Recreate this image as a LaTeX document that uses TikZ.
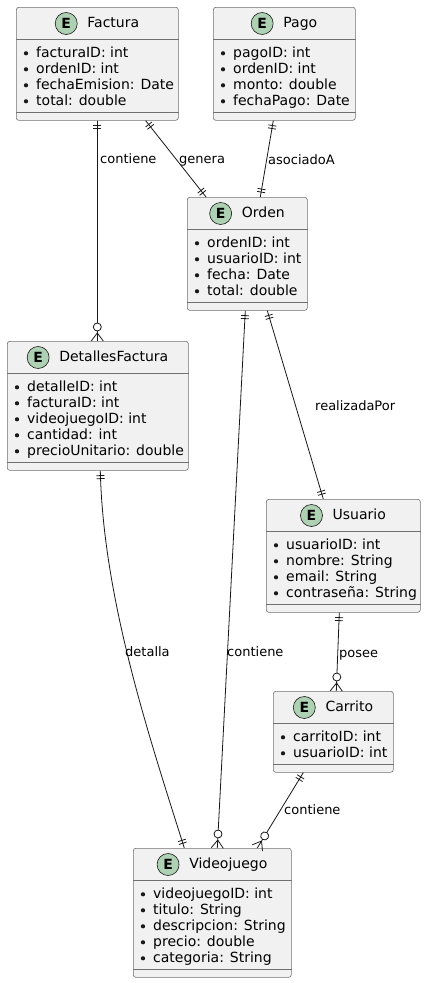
\documentclass[tikz,border=0pt]{standalone}
\usepackage{fontspec}
\setmainfont{DejaVu Sans}
\usetikzlibrary{decorations.markings,calc}
\definecolor{entfill}{HTML}{F1F1F1}
\definecolor{entline}{HTML}{181818}
\definecolor{boxline}{HTML}{707070}
\definecolor{ecol}{HTML}{ADD1B2}
\tikzset{
  entbox/.style={draw=boxline, line width=0.6pt, fill=entfill, rounded corners=2.5pt, inner sep=0pt, anchor=north west},
  divline/.style={draw=boxline, line width=0.6pt},
  ttl/.style={inner sep=0pt, text height=10pt, text depth=3pt, font=\fontsize{14}{16}\selectfont},
  ecirc/.style={circle, draw=entline, line width=0.6pt, fill=ecol, minimum size=22pt, inner sep=0pt, font=\fontsize{14}{16}\selectfont\bfseries},
  attr/.style={inner sep=0pt, anchor=base west, font=\fontsize{14}{16}\selectfont},
  lbl/.style={inner sep=0pt, anchor=base west, font=\fontsize{13}{15}\selectfont},
  conn/.style={draw=entline, line width=0.8pt},
  mk/.style={draw=entline, line width=0.8pt},
  oneS/.style={postaction={decorate, decoration={markings,
     mark=at position 5pt with {\draw[mk] (0,-4pt) -- (0,4pt);},
     mark=at position 8pt with {\draw[mk] (0,-4pt) -- (0,4pt);}}}},
  oneE/.style={postaction={decorate, decoration={markings,
     mark=at position -5pt with {\draw[mk] (0,-4pt) -- (0,4pt);},
     mark=at position -8pt with {\draw[mk] (0,-4pt) -- (0,4pt);}}}},
  zmanyE/.style={postaction={decorate, decoration={markings,
     mark=at position -14pt with {\draw[mk, fill=white] (0,0) circle (4pt);},
     mark=at position -8pt with {\draw[mk] (0,0) -- (8pt,6pt) (0,0) -- (8pt,-6pt);}}}},
}
% id, x, y, width, number of attributes, title, attributes
\newcommand{\entity}[7]{%
  \node[entbox, minimum width=#4pt, minimum height={49pt+16pt*#5}] (#1) at (#2,#3) {};
  \draw[divline] ([yshift=-32pt]#1.north west) -- ([yshift=-32pt]#1.north east);
  \draw[divline] ([yshift=8pt]#1.south west) -- ([yshift=8pt]#1.south east);
  \node[ttl] (#1-t) at ([xshift=16pt,yshift=-16.5pt]#1.north) {#6};
  \node[ecirc] (#1-e) at ([xshift=-21pt]#1-t.west) {E};
  \foreach \a [count=\i] in {#7} {
    \fill[entline] ([xshift=10pt,yshift={-46.3pt-16pt*(\i-1)}]#1.north west) circle (2.1pt);
    \node[attr] (#1-a\i) at ([xshift=20pt,yshift={-50.5pt-16pt*(\i-1)}]#1.north west) {\a};
  }
}
\begin{document}
\begin{tikzpicture}[x=1pt,y=-1pt]
\useasboundingbox (0,0) rectangle (426,983);
\fill[white] (0,0) rectangle (426,983);

\entity{factura}{16}{7}{162}{4}{Factura}{facturaID: int,ordenID: int,fechaEmision: Date,total: double}
\entity{pago}{213}{7}{142}{4}{Pago}{pagoID: int,ordenID: int,monto: double,fechaPago: Date}
\entity{orden}{187}{197}{120}{4}{Orden}{ordenID: int,usuarioID: int,fecha: Date,total: double}
\entity{detalles}{7}{341}{181}{5}{DetallesFactura}{detalleID: int,facturaID: int,videojuegoID: int,cantidad: int,precioUnitario: double}
\entity{usuario}{266}{499}{154}{4}{Usuario}{usuarioID: int,nombre: String,email: String,contraseña: String}
\entity{carrito}{273}{691}{120}{2}{Carrito}{carritoID: int,usuarioID: int}
\entity{videojuego}{133}{848}{158}{5}{Videojuego}{videojuegoID: int,titulo: String,descripcion: String,precio: double,categoria: String}

% connectors
\draw[conn, oneS, zmanyE] (factura.south) -- (factura.south |- detalles.north);
\draw[conn, oneS, oneE] ([xshift=-33pt]factura.south east) -- ([xshift=19pt]orden.north west);
\draw[conn, oneS, oneE] ([xshift=-11pt]pago.south) -- ([xshift=13pt]orden.north);
\draw[conn, oneS, oneE] ([xshift=20pt]orden.south) -- ([xshift=-20pt]usuario.north);
\draw[conn, oneS, zmanyE] ([xshift=-2pt]orden.south) -- ([xshift=5pt]videojuego.north);
\draw[conn, oneS, oneE] ([xshift=2.5pt]detalles.south) .. controls +(3,130) and +(-34,-108) .. ([xshift=-28pt]videojuego.north);
\draw[conn, oneS, zmanyE] ([xshift=-4pt]usuario.south) -- ([xshift=3pt]carrito.north);
\draw[conn, oneS, zmanyE] ([xshift=-30pt]carrito.south) -- ([xshift=45pt]videojuego.north);

% labels
\node[lbl] (l-contiene1) at (100,163) {contiene};
\node[lbl] (l-genera) at (179,163) {genera};
\node[lbl] (l-asociado) at (268,164) {asociadoA};
\node[lbl] (l-realizada) at (315,410) {realizadaPor};
\node[lbl] (l-detalla) at (125,656) {detalla};
\node[lbl] (l-contiene2) at (227,656) {contiene};
\node[lbl] (l-posee) at (339,657) {posee};
\node[lbl] (l-contiene3) at (284,814) {contiene};
\end{tikzpicture}
\end{document}
